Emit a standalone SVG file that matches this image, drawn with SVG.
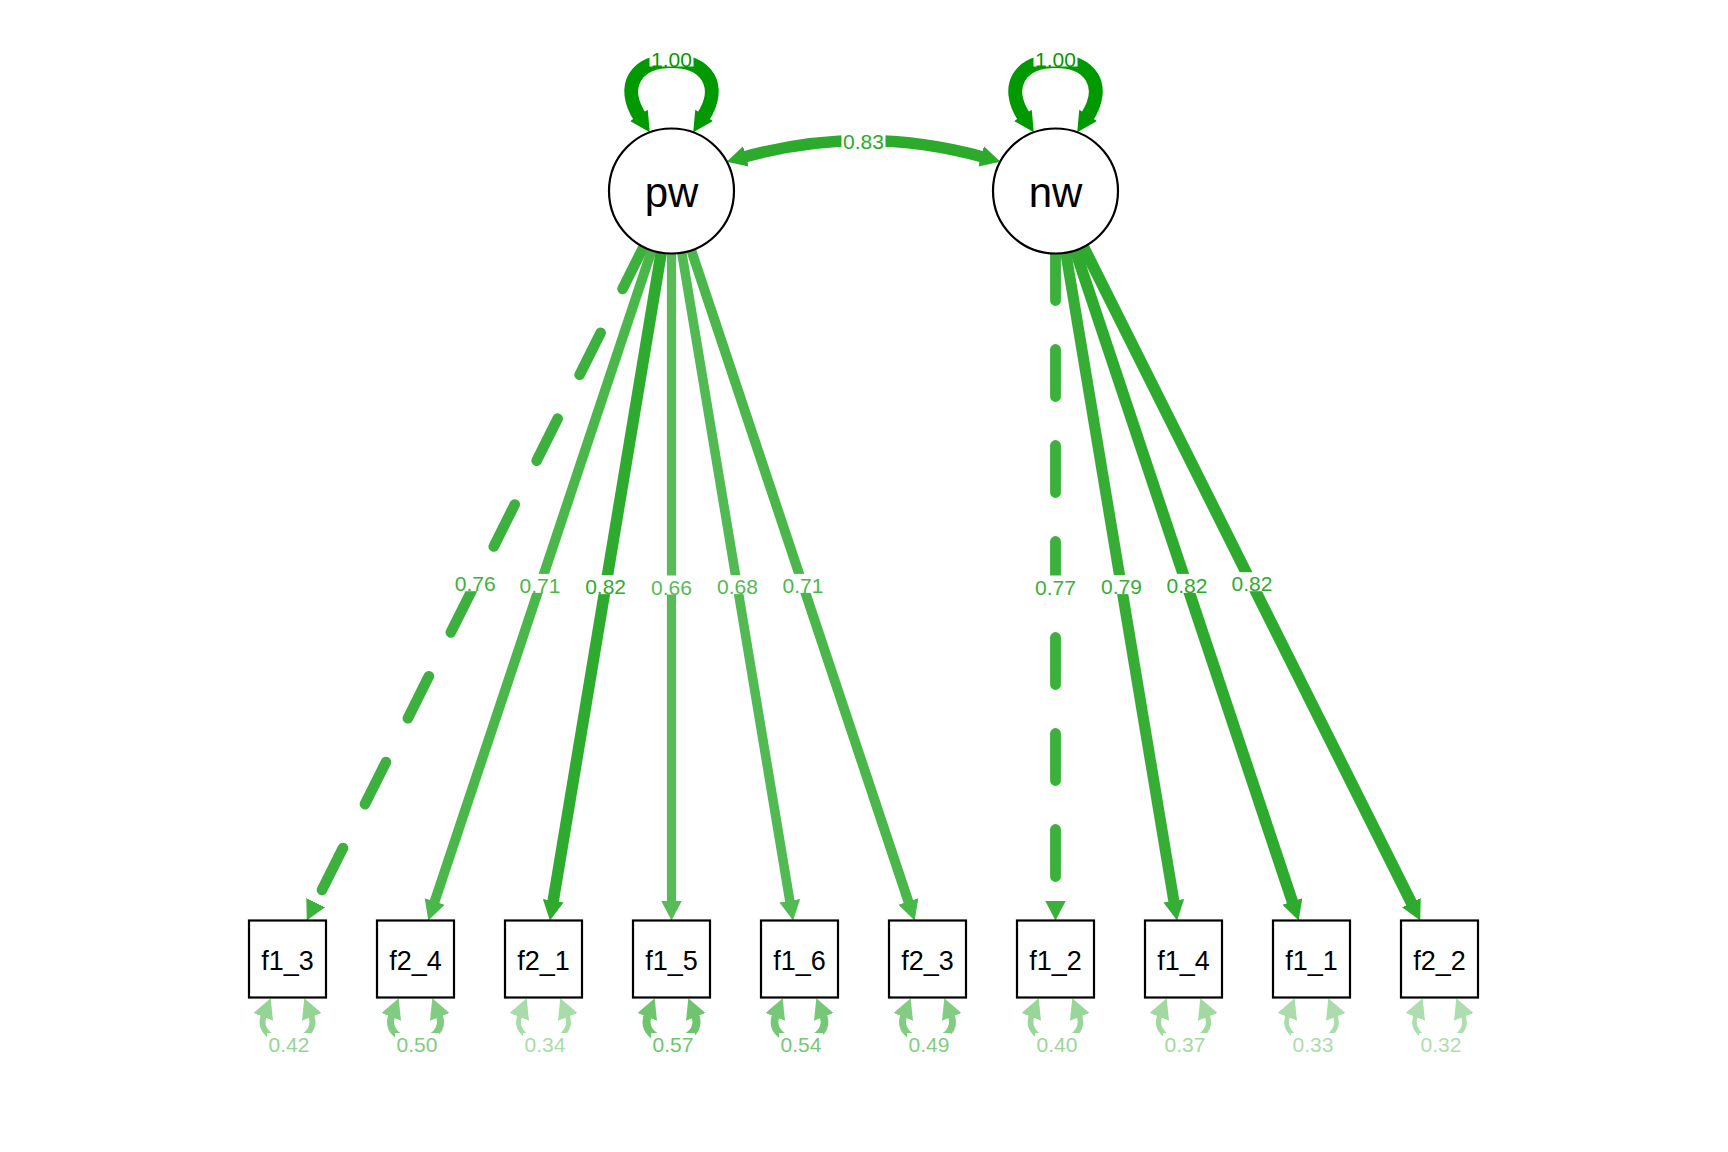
<svg xmlns="http://www.w3.org/2000/svg" width="1728" height="1152" viewBox="0 0 1728 1152">
<style>
.e{fill:none}
.d{stroke-dasharray:47 49;stroke-linecap:round}
.bg{fill:#fff}
.lbl{font-family:"Liberation Sans",Arial,sans-serif;font-size:21px;text-anchor:middle}
.lat circle{fill:#fff;stroke:#000;stroke-width:2.2}
.man rect{fill:#fff;stroke:#000;stroke-width:2.2}
.lt{font-family:"Liberation Sans",Arial,sans-serif;font-size:42px;text-anchor:middle;fill:#000}
.mt{font-family:"Liberation Sans",Arial,sans-serif;font-size:27px;text-anchor:middle;fill:#000}
</style>
<defs>
<marker id="m100" viewBox="0 -12 22 24" refX="2" refY="0" markerWidth="22" markerHeight="24" markerUnits="userSpaceOnUse" orient="auto-start-reverse"><path d="M0,-10.5L20,0L0,10.5Z" fill="#009900"/></marker>
<marker id="m83" viewBox="0 -12 22 24" refX="2" refY="0" markerWidth="22" markerHeight="24" markerUnits="userSpaceOnUse" orient="auto-start-reverse"><path d="M0,-10.5L20,0L0,10.5Z" fill="#2BAA2B"/></marker>
<marker id="m82" viewBox="0 -12 22 24" refX="2" refY="0" markerWidth="22" markerHeight="24" markerUnits="userSpaceOnUse" orient="auto-start-reverse"><path d="M0,-10.5L20,0L0,10.5Z" fill="#2EAB2E"/></marker>
<marker id="m79" viewBox="0 -12 22 24" refX="2" refY="0" markerWidth="22" markerHeight="24" markerUnits="userSpaceOnUse" orient="auto-start-reverse"><path d="M0,-10.5L20,0L0,10.5Z" fill="#36AE36"/></marker>
<marker id="m77" viewBox="0 -12 22 24" refX="2" refY="0" markerWidth="22" markerHeight="24" markerUnits="userSpaceOnUse" orient="auto-start-reverse"><path d="M0,-10.5L20,0L0,10.5Z" fill="#3BB03B"/></marker>
<marker id="m76" viewBox="0 -12 22 24" refX="2" refY="0" markerWidth="22" markerHeight="24" markerUnits="userSpaceOnUse" orient="auto-start-reverse"><path d="M0,-10.5L20,0L0,10.5Z" fill="#3DB13D"/></marker>
<marker id="m71" viewBox="0 -12 22 24" refX="2" refY="0" markerWidth="22" markerHeight="24" markerUnits="userSpaceOnUse" orient="auto-start-reverse"><path d="M0,-10.5L20,0L0,10.5Z" fill="#4AB74A"/></marker>
<marker id="m68" viewBox="0 -12 22 24" refX="2" refY="0" markerWidth="22" markerHeight="24" markerUnits="userSpaceOnUse" orient="auto-start-reverse"><path d="M0,-10.5L20,0L0,10.5Z" fill="#52BA52"/></marker>
<marker id="m66" viewBox="0 -12 22 24" refX="2" refY="0" markerWidth="22" markerHeight="24" markerUnits="userSpaceOnUse" orient="auto-start-reverse"><path d="M0,-10.5L20,0L0,10.5Z" fill="#57BC57"/></marker>
<marker id="r57" viewBox="0 -12 22 24" refX="2" refY="0" markerWidth="22" markerHeight="24" markerUnits="userSpaceOnUse" orient="auto-start-reverse"><path d="M0,-10.5L20,0L0,10.5Z" fill="#6EC56E"/></marker>
<marker id="r54" viewBox="0 -12 22 24" refX="2" refY="0" markerWidth="22" markerHeight="24" markerUnits="userSpaceOnUse" orient="auto-start-reverse"><path d="M0,-10.5L20,0L0,10.5Z" fill="#75C875"/></marker>
<marker id="r50" viewBox="0 -12 22 24" refX="2" refY="0" markerWidth="22" markerHeight="24" markerUnits="userSpaceOnUse" orient="auto-start-reverse"><path d="M0,-10.5L20,0L0,10.5Z" fill="#80CC80"/></marker>
<marker id="r49" viewBox="0 -12 22 24" refX="2" refY="0" markerWidth="22" markerHeight="24" markerUnits="userSpaceOnUse" orient="auto-start-reverse"><path d="M0,-10.5L20,0L0,10.5Z" fill="#82CD82"/></marker>
<marker id="r42" viewBox="0 -12 22 24" refX="2" refY="0" markerWidth="22" markerHeight="24" markerUnits="userSpaceOnUse" orient="auto-start-reverse"><path d="M0,-10.5L20,0L0,10.5Z" fill="#94D494"/></marker>
<marker id="r40" viewBox="0 -12 22 24" refX="2" refY="0" markerWidth="22" markerHeight="24" markerUnits="userSpaceOnUse" orient="auto-start-reverse"><path d="M0,-10.5L20,0L0,10.5Z" fill="#99D699"/></marker>
<marker id="r37" viewBox="0 -12 22 24" refX="2" refY="0" markerWidth="22" markerHeight="24" markerUnits="userSpaceOnUse" orient="auto-start-reverse"><path d="M0,-10.5L20,0L0,10.5Z" fill="#A1D9A1"/></marker>
<marker id="r34" viewBox="0 -12 22 24" refX="2" refY="0" markerWidth="22" markerHeight="24" markerUnits="userSpaceOnUse" orient="auto-start-reverse"><path d="M0,-10.5L20,0L0,10.5Z" fill="#A8DCA8"/></marker>
<marker id="r33" viewBox="0 -12 22 24" refX="2" refY="0" markerWidth="22" markerHeight="24" markerUnits="userSpaceOnUse" orient="auto-start-reverse"><path d="M0,-10.5L20,0L0,10.5Z" fill="#ABDDAB"/></marker>
<marker id="r32" viewBox="0 -12 22 24" refX="2" refY="0" markerWidth="22" markerHeight="24" markerUnits="userSpaceOnUse" orient="auto-start-reverse"><path d="M0,-10.5L20,0L0,10.5Z" fill="#ADDEAD"/></marker>
<path id="rl" d="M-23.5,1015 C-29.5,1030 -15.5,1041 0,1041 C15.5,1041 29.5,1030 23.5,1015"/>
<path id="ll" d="M-31.5,117 C-51.5,86 -35.5,61 0,61 C35.5,61 51.5,86 31.5,117"/>
</defs>
<rect width="1728" height="1152" fill="#fff"/>
<g id="connectors">
<!-- latent variances -->
<g transform="translate(671.5,0)"><use href="#ll" class="e" stroke="#009900" stroke-width="14" marker-start="url(#m100)" marker-end="url(#m100)"/></g>
<g transform="translate(1055.5,0)"><use href="#ll" class="e" stroke="#009900" stroke-width="14" marker-start="url(#m100)" marker-end="url(#m100)"/></g>
<!-- covariance -->
<path class="e" d="M744,157 Q863.5,124 983,157" stroke="#2BAA2B" stroke-width="11.6" marker-start="url(#m83)" marker-end="url(#m83)"/>
<!-- loadings -->
<path class="e d" d="M643.55,246.9 L314.8,904.4" stroke="#3DB13D" stroke-width="10.6" marker-end="url(#m76)"/>
<path class="e" d="M651.74,250.29 L434.02,903.42" stroke="#4AB74A" stroke-width="9.9" marker-end="url(#m71)"/>
<path class="e" d="M661.23,252.65 L552.88,902.74" stroke="#2EAB2E" stroke-width="11.5" marker-end="url(#m82)"/>
<path class="e" d="M671.5,253.5 L671.5,902.5" stroke="#57BC57" stroke-width="9.2" marker-end="url(#m66)"/>
<path class="e" d="M681.77,252.65 L790.12,902.74" stroke="#52BA52" stroke-width="9.5" marker-end="url(#m68)"/>
<path class="e" d="M691.26,250.29 L908.98,903.42" stroke="#4AB74A" stroke-width="9.9" marker-end="url(#m71)"/>
<path class="e d" d="M1055.5,253.5 L1055.5,902.5" stroke="#3BB03B" stroke-width="10.8" marker-end="url(#m77)"/>
<path class="e" d="M1065.77,252.65 L1174.12,902.74" stroke="#36AE36" stroke-width="11.1" marker-end="url(#m79)"/>
<path class="e" d="M1075.26,250.29 L1292.98,903.42" stroke="#2EAB2E" stroke-width="11.5" marker-end="url(#m82)"/>
<path class="e" d="M1083.45,246.9 L1412.2,904.4" stroke="#2EAB2E" stroke-width="11.5" marker-end="url(#m82)"/>
<!-- residual variances -->
<g transform="translate(287.5,0)"><use href="#rl" class="e" stroke="#94D494" stroke-width="5.9" marker-start="url(#r42)" marker-end="url(#r42)"/></g>
<g transform="translate(415.5,0)"><use href="#rl" class="e" stroke="#80CC80" stroke-width="7" marker-start="url(#r50)" marker-end="url(#r50)"/></g>
<g transform="translate(543.5,0)"><use href="#rl" class="e" stroke="#A8DCA8" stroke-width="4.8" marker-start="url(#r34)" marker-end="url(#r34)"/></g>
<g transform="translate(671.5,0)"><use href="#rl" class="e" stroke="#6EC56E" stroke-width="8" marker-start="url(#r57)" marker-end="url(#r57)"/></g>
<g transform="translate(799.5,0)"><use href="#rl" class="e" stroke="#75C875" stroke-width="7.6" marker-start="url(#r54)" marker-end="url(#r54)"/></g>
<g transform="translate(927.5,0)"><use href="#rl" class="e" stroke="#82CD82" stroke-width="6.9" marker-start="url(#r49)" marker-end="url(#r49)"/></g>
<g transform="translate(1055.5,0)"><use href="#rl" class="e" stroke="#99D699" stroke-width="5.6" marker-start="url(#r40)" marker-end="url(#r40)"/></g>
<g transform="translate(1183.5,0)"><use href="#rl" class="e" stroke="#A1D9A1" stroke-width="5.2" marker-start="url(#r37)" marker-end="url(#r37)"/></g>
<g transform="translate(1311.5,0)"><use href="#rl" class="e" stroke="#ABDDAB" stroke-width="4.6" marker-start="url(#r33)" marker-end="url(#r33)"/></g>
<g transform="translate(1439.5,0)"><use href="#rl" class="e" stroke="#ADDEAD" stroke-width="4.5" marker-start="url(#r32)" marker-end="url(#r32)"/></g>
<!-- edge labels -->
<g class="lbl">
<rect class="bg" x="649.5" y="47.5" width="44" height="19"/><text x="671.5" y="66.5" fill="#009900">1.00</text>
<rect class="bg" x="1033.5" y="47.5" width="44" height="19"/><text x="1055.5" y="66.5" fill="#009900">1.00</text>
<rect class="bg" x="841.5" y="130" width="44" height="19"/><text x="863.5" y="149" fill="#2BAA2B">0.83</text>
<rect class="bg" x="453.2" y="572.2" width="44" height="19"/><text x="475.2" y="591.2" fill="#3DB13D">0.76</text>
<rect class="bg" x="518" y="573.9" width="44" height="19"/><text x="540" y="592.9" fill="#4AB74A">0.71</text>
<rect class="bg" x="583.6" y="575.1" width="44" height="19"/><text x="605.6" y="594.1" fill="#2EAB2E">0.82</text>
<rect class="bg" x="649.5" y="575.5" width="44" height="19"/><text x="671.5" y="594.5" fill="#57BC57">0.66</text>
<rect class="bg" x="715.4" y="575.1" width="44" height="19"/><text x="737.4" y="594.1" fill="#52BA52">0.68</text>
<rect class="bg" x="781" y="573.9" width="44" height="19"/><text x="803" y="592.9" fill="#4AB74A">0.71</text>
<rect class="bg" x="1033.5" y="575.5" width="44" height="19"/><text x="1055.5" y="594.5" fill="#3BB03B">0.77</text>
<rect class="bg" x="1099.4" y="575.1" width="44" height="19"/><text x="1121.4" y="594.1" fill="#36AE36">0.79</text>
<rect class="bg" x="1165" y="573.9" width="44" height="19"/><text x="1187" y="592.9" fill="#2EAB2E">0.82</text>
<rect class="bg" x="1229.9" y="572.2" width="44" height="19"/><text x="1251.9" y="591.2" fill="#2EAB2E">0.82</text>
<rect class="bg" x="267" y="1033" width="44" height="19"/><text x="289" y="1052" fill="#94D494">0.42</text>
<rect class="bg" x="395" y="1033" width="44" height="19"/><text x="417" y="1052" fill="#80CC80">0.50</text>
<rect class="bg" x="523" y="1033" width="44" height="19"/><text x="545" y="1052" fill="#A8DCA8">0.34</text>
<rect class="bg" x="651" y="1033" width="44" height="19"/><text x="673" y="1052" fill="#6EC56E">0.57</text>
<rect class="bg" x="779" y="1033" width="44" height="19"/><text x="801" y="1052" fill="#75C875">0.54</text>
<rect class="bg" x="907" y="1033" width="44" height="19"/><text x="929" y="1052" fill="#82CD82">0.49</text>
<rect class="bg" x="1035" y="1033" width="44" height="19"/><text x="1057" y="1052" fill="#99D699">0.40</text>
<rect class="bg" x="1163" y="1033" width="44" height="19"/><text x="1185" y="1052" fill="#A1D9A1">0.37</text>
<rect class="bg" x="1291" y="1033" width="44" height="19"/><text x="1313" y="1052" fill="#ABDDAB">0.33</text>
<rect class="bg" x="1419" y="1033" width="44" height="19"/><text x="1441" y="1052" fill="#ADDEAD">0.32</text>
</g>
</g>
<g id="node-pw" class="lat"><circle cx="671.5" cy="191" r="62.5"/><text class="lt" x="671.5" y="206.5">pw</text></g>
<g id="node-nw" class="lat"><circle cx="1055.5" cy="191" r="62.5"/><text class="lt" x="1055.5" y="206.5">nw</text></g>
<g id="node-f1_3" class="man"><rect x="249" y="920.5" width="77" height="77"/><text class="mt" x="287.5" y="969.5">f1_3</text></g>
<g id="node-f2_4" class="man"><rect x="377" y="920.5" width="77" height="77"/><text class="mt" x="415.5" y="969.5">f2_4</text></g>
<g id="node-f2_1" class="man"><rect x="505" y="920.5" width="77" height="77"/><text class="mt" x="543.5" y="969.5">f2_1</text></g>
<g id="node-f1_5" class="man"><rect x="633" y="920.5" width="77" height="77"/><text class="mt" x="671.5" y="969.5">f1_5</text></g>
<g id="node-f1_6" class="man"><rect x="761" y="920.5" width="77" height="77"/><text class="mt" x="799.5" y="969.5">f1_6</text></g>
<g id="node-f2_3" class="man"><rect x="889" y="920.5" width="77" height="77"/><text class="mt" x="927.5" y="969.5">f2_3</text></g>
<g id="node-f1_2" class="man"><rect x="1017" y="920.5" width="77" height="77"/><text class="mt" x="1055.5" y="969.5">f1_2</text></g>
<g id="node-f1_4" class="man"><rect x="1145" y="920.5" width="77" height="77"/><text class="mt" x="1183.5" y="969.5">f1_4</text></g>
<g id="node-f1_1" class="man"><rect x="1273" y="920.5" width="77" height="77"/><text class="mt" x="1311.5" y="969.5">f1_1</text></g>
<g id="node-f2_2" class="man"><rect x="1401" y="920.5" width="77" height="77"/><text class="mt" x="1439.5" y="969.5">f2_2</text></g>
</svg>
